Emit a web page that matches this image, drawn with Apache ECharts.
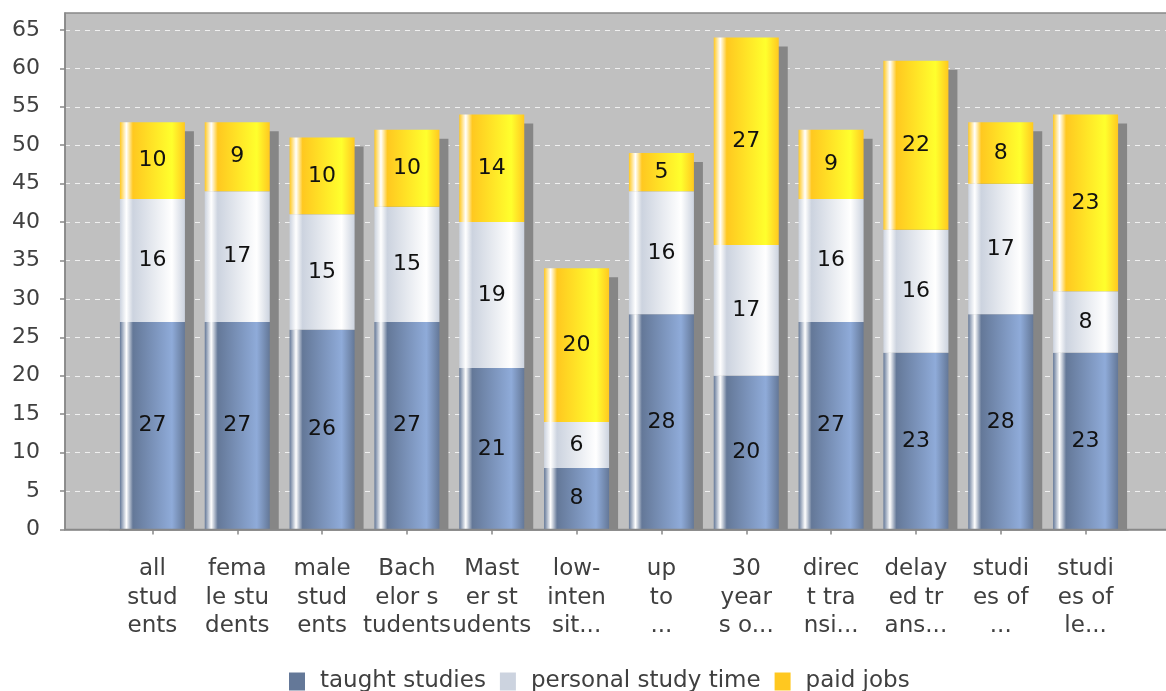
<!DOCTYPE html>
<html>
<head>
<meta charset="utf-8">
<script src="https://cdn.jsdelivr.net/npm/echarts@6/dist/echarts.min.js"></script>
<style>
  html, body { margin: 0; padding: 0; background: #ffffff; }
  #chart { width: 1166px; height: 691px; }
</style>
</head>
<body>
<div id="chart"></div>
<script>
// Category labels, wrapped and shortened as they appear under the bars
const categories = [
  'all\nstud\nents',
  'fema\nle stu\ndents',
  'male\nstud\nents',
  'Bach\nelor s\ntudents',
  'Mast\ner st\nudents',
  'low-\ninten\nsit...',
  'up\nto\n...',
  '30\nyear\ns o...',
  'direc\nt tra\nnsi...',
  'delay\ned tr\nans...',
  'studi\nes of\n...',
  'studi\nes of\nle...'
];

// Weekly hours per group
const taughtStudies     = [27, 27, 26, 27, 21,  8, 28, 20, 27, 23, 28, 23];
const personalStudyTime = [16, 17, 15, 15, 19,  6, 16, 17, 16, 16, 17,  8];
const paidJobs          = [10,  9, 10, 10, 14, 20,  5, 27,  9, 22,  8, 23];

// Value axis tick labels
const yTickValues = [0, 5, 10, 15, 20, 25, 30, 35, 40, 45, 50, 55, 60, 65];
const yAxisMax = 67.2;

const FONT = 'DejaVu Sans';
const TEXT = '#404040';
const AXIS = '#888888';

// Plot rectangle and the narrower band that holds the bars
const PLOT = { left: 65, top: 13, width: 1110, height: 516.5 };
const BARS = { left: 110, width: 1018 };
const BAR_WIDTH = 65;
const SHADOW_OFFSET = 9;

// Series base colours and their brighter variants for the shaded fill
const seriesColors = [
  { name: 'taught studies',      base: '#647898', light: '#8fabd9' },
  { name: 'personal study time', base: '#ccd3df', light: '#ffffff' },
  { name: 'paid jobs',           base: '#ffc820', light: '#ffff2d' }
];
const seriesData = [taughtStudies, personalStudyTime, paidJobs];

function barFill(c0, c1) {
  return new echarts.graphic.LinearGradient(0, 0, 1, 0, [
    { offset: 0.0, color: c0 },
    { offset: 0.1, color: '#ffffff' },
    { offset: 0.2, color: c0 },
    { offset: 0.8, color: c1 },
    { offset: 1.0, color: c0 }
  ]);
}

// Stack heights, used for the drop shadow behind each column
const stackTotals = categories.map((_, i) => [i, taughtStudies[i] + personalStudyTime[i] + paidJobs[i]]);

const chart = echarts.init(document.getElementById('chart'), null, { renderer: 'canvas' });

const barSeries = seriesColors.map((s, k) => ({
  type: 'bar',
  name: s.name,
  xAxisIndex: 1,
  yAxisIndex: 1,
  stack: 'hours',
  barWidth: BAR_WIDTH,
  data: seriesData[k],
  z: 3,
  itemStyle: { color: barFill(s.base, s.light) },
  label: {
    show: true,
    position: 'inside',
    fontFamily: FONT,
    fontSize: 22,
    color: '#111111'
  },
  emphasis: { disabled: true }
}));

const shadowSeries = {
  type: 'custom',
  name: 'shadow',
  xAxisIndex: 1,
  yAxisIndex: 1,
  silent: true,
  z: 1,
  data: stackTotals,
  renderItem: function (params, api) {
    const top = api.coord([api.value(0), api.value(1)]);
    const base = api.coord([api.value(0), 0]);
    return {
      type: 'rect',
      shape: {
        x: top[0] - BAR_WIDTH / 2 + SHADOW_OFFSET,
        y: top[1] + SHADOW_OFFSET,
        width: BAR_WIDTH,
        height: base[1] - top[1] - SHADOW_OFFSET
      },
      style: { fill: '#868686' }
    };
  }
};

const option = {
  animation: false,
  backgroundColor: '#ffffff',
  textStyle: { fontFamily: FONT },
  grid: [
    {
      left: PLOT.left, top: PLOT.top, width: PLOT.width, height: PLOT.height,
      show: true, backgroundColor: '#c0c0c0', borderWidth: 0,
      outerBoundsMode: 'none', containLabel: false
    },
    {
      left: BARS.left, top: PLOT.top, width: BARS.width, height: PLOT.height,
      outerBoundsMode: 'none', containLabel: false
    }
  ],
  xAxis: [
    {
      gridIndex: 0, type: 'value', min: 0, max: 1, position: 'bottom', offset: 10.5,
      axisLine: { show: true, lineStyle: { color: AXIS, width: 1.5 } },
      axisTick: { show: false }, axisLabel: { show: false }, splitLine: { show: false }
    },
    {
      gridIndex: 1, type: 'category', data: categories, position: 'bottom', offset: 10.5,
      axisLine: { show: true, lineStyle: { color: AXIS, width: 1.5 } },
      axisTick: { show: true, alignWithLabel: true, length: 5, lineStyle: { color: AXIS, width: 1.5 } },
      axisLabel: {
        interval: 0, margin: 15, fontFamily: FONT, fontSize: 23, lineHeight: 28.5,
        color: TEXT, align: 'center'
      },
      splitLine: { show: false }
    }
  ],
  yAxis: [
    {
      gridIndex: 0, type: 'value', min: 0, max: yAxisMax, interval: 5, offset: 10,
      axisLine: { show: true, lineStyle: { color: AXIS, width: 1.5 } },
      axisTick: { show: true, length: 5, customValues: yTickValues, lineStyle: { color: AXIS, width: 1.5 } },
      axisLabel: {
        customValues: yTickValues, margin: 15,
        fontFamily: FONT, fontSize: 22, color: TEXT
      },
      splitLine: { show: true, lineStyle: { color: '#f0f0f0', width: 1, type: [5, 5] } }
    },
    {
      gridIndex: 1, type: 'value', min: 0, max: yAxisMax, show: false,
      splitLine: { show: false }
    }
  ],
  legend: {
    left: 284, top: 665,
    itemWidth: 16, itemHeight: 18, itemGap: 14,
    icon: 'rect',
    textStyle: { fontFamily: FONT, fontSize: 23, color: TEXT, padding: [0, 0, 0, 10] },
    data: seriesColors.map(s => ({ name: s.name, itemStyle: { color: s.base } })),
    selectedMode: false
  },
  graphic: [
    {
      type: 'rect', z: 100, silent: true,
      shape: { x: PLOT.left, y: PLOT.top, width: PLOT.width, height: PLOT.height },
      style: { fill: 'none', stroke: AXIS, lineWidth: 1.5 }
    }
  ],
  series: [shadowSeries].concat(barSeries)
};

chart.setOption(option);
</script>
</body>
</html>
